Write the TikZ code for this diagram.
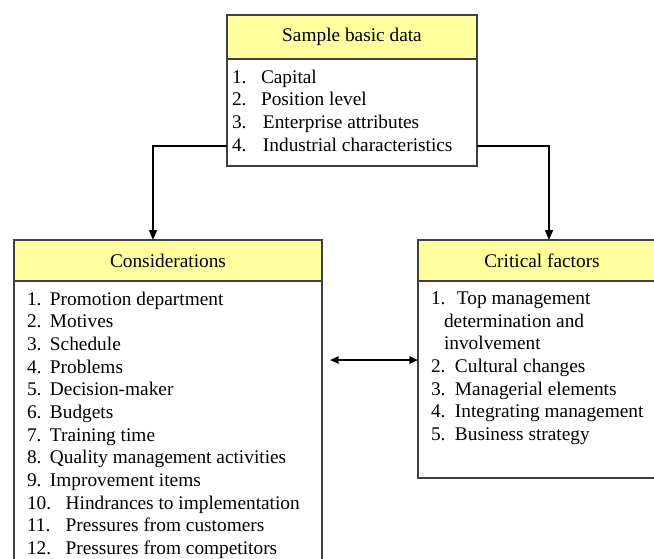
\documentclass[tikz,border=0pt]{standalone}
\usepackage{fontspec}
\setmainfont{Liberation Serif}
\usetikzlibrary{positioning}
\usetikzlibrary{arrows.meta}

\definecolor{headyellow}{RGB}{255,255,160}
\newcommand{\listbody}[3]{\begin{minipage}[c][#1][t]{#2}\vspace*{8pt}#3\end{minipage}}
\newcommand{\numitem}[3]{\makebox[#1][l]{#2}#3\par}

\begin{document}
\begin{tikzpicture}[x = 0.75pt, y = -0.75pt]
  \tikzstyle{head}=[
      rectangle, draw = black!75, line width = 0.8pt
    , fill = headyellow, outer sep = 0pt
    , font = \fontsize{14.5}{17}\selectfont
    ]
  \tikzstyle{body}=[
      rectangle, draw = black!75, line width = 0.8pt
    , fill = white, outer sep = 0pt, inner ysep = 0pt
    , font = \fontsize{14.5}{17}\selectfont
    ]
  \tikzstyle{connect}=[-{Triangle[length = 7.5pt, width = 6pt]}, line width = 1.2pt]
  \tikzstyle{link}=[{Triangle[length = 6.5pt, width = 5.5pt]}-{Triangle[length = 6.5pt, width = 5.5pt]}, line width = 1.2pt]

  \path[use as bounding box, clip] (0,0) rectangle (654,558);

  % sample basic data
  \node[head, minimum width = 187.5pt, minimum height = 33pt, anchor = north]
    (tophead) at (352,15) { Sample basic data };
  \node[body, inner xsep = 3.75pt, below = 0pt of tophead] (topbody)
    { \listbody{80.25pt}{180pt}{%
        \numitem{21.75pt}{1.}{Capital}
        \numitem{21.75pt}{2.}{Position level}
        \numitem{23.25pt}{3.}{Enterprise attributes}
        \numitem{23.25pt}{4.}{Industrial characteristics}} };

  % considerations
  \node[head, minimum width = 231pt, minimum height = 30.75pt, anchor = north]
    (conshead) at (168,240) { Considerations };
  \node[body, inner xsep = 9.75pt, below = 0pt of conshead] (consbody)
    { \listbody{216.75pt}{211.5pt}{%
        \numitem{17.25pt}{1.}{Promotion department}
        \numitem{17.25pt}{2.}{Motives}
        \numitem{17.25pt}{3.}{Schedule}
        \numitem{17.25pt}{4.}{Problems}
        \numitem{17.25pt}{5.}{Decision-maker}
        \numitem{17.25pt}{6.}{Budgets}
        \numitem{17.25pt}{7.}{Training time}
        \numitem{17.25pt}{8.}{Quality management activities}
        \numitem{17.25pt}{9.}{Improvement items}
        \numitem{29pt}{10.}{Hindrances to implementation}
        \numitem{29pt}{11.}{Pressures from customers}
        \numitem{29pt}{12.}{Pressures from competitors}} };

  % critical factors
  \node[head, minimum width = 186pt, minimum height = 30.75pt, anchor = north]
    (crithead) at (542,240) { Critical factors };
  \node[body, inner xsep = 9.75pt, below = 0pt of crithead] (critbody)
    { \listbody{147.75pt}{166.5pt}{%
        \numitem{19.5pt}{1.}{Top management}
        \hspace*{9.75pt}determination and\par
        \hspace*{9.75pt}involvement\par
        \numitem{18pt}{2.}{Cultural changes}
        \numitem{18pt}{3.}{Managerial elements}
        \numitem{18pt}{4.}{Integrating management}
        \numitem{18pt}{5.}{Business strategy}} };

  \coordinate (split) at ([yshift = 15pt]topbody.south west);
  \coordinate (splitr) at ([yshift = 15pt]topbody.south east);
  \coordinate (linkr) at ([yshift = 14.6pt]critbody.west);

  \draw[connect] (split) -| ([xshift = -11.25pt]conshead.north);
  \draw[connect] (splitr) -| ([xshift = 5.25pt]crithead.north);
  \draw[link] ([xshift = 6pt]consbody.east |- linkr) -- (linkr);

\end{tikzpicture}
\end{document}
